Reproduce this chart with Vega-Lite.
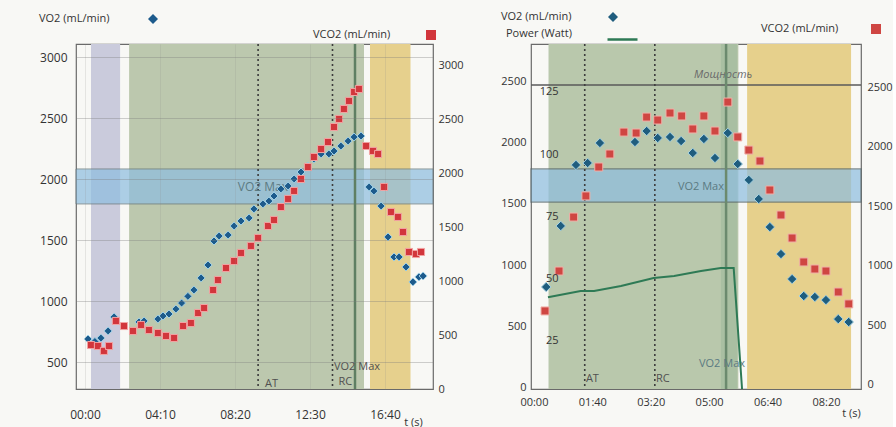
{
"$schema": "https://vega.github.io/schema/vega-lite/v6.json",
"background": "#f8f8f5",
"padding": {"left": 38, "top": 11, "right": 0, "bottom": 40},
"spacing": 98,
"bounds": "flush",
"datasets": {
 "lzones": [{"t": 20, "t2": 117, "zone": "warm-up"}, {"t": 147, "t2": 930, "zone": "load"}, {"t": 950, "t2": 1085, "zone": "recovery"}],
 "lband": [{"lo": 1798, "hi": 2085}],
 "lmarks": [{"t": 577, "kind": "AT"}, {"t": 825, "kind": "RC"}, {"t": 900, "kind": "VO2 Max"}],
 "llabels": [{"t": 600, "v": 321, "label": "AT"}, {"t": 845, "v": 337, "label": "RC"}, {"t": 830, "v": 460, "label": "VO2 Max"}],
 "lbandlabel": [{"t": 593, "v": 1937, "label": "VO2 Max"}],
 "lpts": [
  {"t":10,"v":690,"s":"VO2"},{"t":33,"v":670,"s":"VO2"},{"t":53,"v":698,"s":"VO2"},{"t":77,"v":756,"s":"VO2"},{"t":97,"v":871,"s":"VO2"},{"t":180,"v":830,"s":"VO2"},{"t":197,"v":838,"s":"VO2"},{"t":243,"v":854,"s":"VO2"},{"t":260,"v":879,"s":"VO2"},{"t":280,"v":895,"s":"VO2"},{"t":303,"v":936,"s":"VO2"},{"t":322,"v":985,"s":"VO2"},{"t":343,"v":1040,"s":"VO2"},{"t":363,"v":1092,"s":"VO2"},{"t":387,"v":1191,"s":"VO2"},{"t":410,"v":1297,"s":"VO2"},{"t":430,"v":1494,"s":"VO2"},{"t":447,"v":1535,"s":"VO2"},{"t":477,"v":1543,"s":"VO2"},{"t":497,"v":1617,"s":"VO2"},{"t":520,"v":1658,"s":"VO2"},{"t":547,"v":1683,"s":"VO2"},{"t":563,"v":1757,"s":"VO2"},{"t":593,"v":1798,"s":"VO2"},{"t":613,"v":1822,"s":"VO2"},{"t":630,"v":1863,"s":"VO2"},{"t":653,"v":1921,"s":"VO2"},{"t":677,"v":1945,"s":"VO2"},{"t":697,"v":2003,"s":"VO2"},{"t":720,"v":2060,"s":"VO2"},{"t":743,"v":2109,"s":"VO2"},{"t":763,"v":2167,"s":"VO2"},{"t":787,"v":2208,"s":"VO2"},{"t":813,"v":2208,"s":"VO2"},{"t":830,"v":2232,"s":"VO2"},{"t":853,"v":2273,"s":"VO2"},{"t":877,"v":2314,"s":"VO2"},{"t":897,"v":2347,"s":"VO2"},{"t":920,"v":2355,"s":"VO2"},{"t":947,"v":1937,"s":"VO2"},{"t":963,"v":1904,"s":"VO2"},{"t":987,"v":1781,"s":"VO2"},{"t":1010,"v":1527,"s":"VO2"},{"t":1030,"v":1363,"s":"VO2"},{"t":1047,"v":1363,"s":"VO2"},{"t":1070,"v":1281,"s":"VO2"},{"t":1093,"v":1158,"s":"VO2"},{"t":1113,"v":1199,"s":"VO2"},{"t":1127,"v":1207,"s":"VO2"},
  {"t":20,"v":408,"s":"VCO2"},{"t":43,"v":399,"s":"VCO2"},{"t":63,"v":353,"s":"VCO2"},{"t":80,"v":399,"s":"VCO2"},{"t":103,"v":631,"s":"VCO2"},{"t":130,"v":584,"s":"VCO2"},{"t":160,"v":538,"s":"VCO2"},{"t":187,"v":594,"s":"VCO2"},{"t":213,"v":547,"s":"VCO2"},{"t":243,"v":519,"s":"VCO2"},{"t":270,"v":492,"s":"VCO2"},{"t":297,"v":473,"s":"VCO2"},{"t":327,"v":584,"s":"VCO2"},{"t":353,"v":612,"s":"VCO2"},{"t":377,"v":705,"s":"VCO2"},{"t":397,"v":751,"s":"VCO2"},{"t":427,"v":918,"s":"VCO2"},{"t":443,"v":1011,"s":"VCO2"},{"t":470,"v":1122,"s":"VCO2"},{"t":497,"v":1187,"s":"VCO2"},{"t":520,"v":1262,"s":"VCO2"},{"t":553,"v":1327,"s":"VCO2"},{"t":577,"v":1401,"s":"VCO2"},{"t":610,"v":1512,"s":"VCO2"},{"t":630,"v":1568,"s":"VCO2"},{"t":653,"v":1688,"s":"VCO2"},{"t":677,"v":1763,"s":"VCO2"},{"t":697,"v":1837,"s":"VCO2"},{"t":720,"v":1948,"s":"VCO2"},{"t":743,"v":2059,"s":"VCO2"},{"t":763,"v":2152,"s":"VCO2"},{"t":787,"v":2226,"s":"VCO2"},{"t":810,"v":2291,"s":"VCO2"},{"t":830,"v":2430,"s":"VCO2"},{"t":847,"v":2505,"s":"VCO2"},{"t":863,"v":2597,"s":"VCO2"},{"t":880,"v":2672,"s":"VCO2"},{"t":897,"v":2755,"s":"VCO2"},{"t":913,"v":2783,"s":"VCO2"},{"t":937,"v":2254,"s":"VCO2"},{"t":960,"v":2208,"s":"VCO2"},{"t":977,"v":2180,"s":"VCO2"},{"t":997,"v":1874,"s":"VCO2"},{"t":1020,"v":1642,"s":"VCO2"},{"t":1043,"v":1596,"s":"VCO2"},{"t":1060,"v":1456,"s":"VCO2"},{"t":1080,"v":1271,"s":"VCO2"},{"t":1103,"v":1252,"s":"VCO2"},{"t":1120,"v":1271,"s":"VCO2"}
 ],
 "rzones": [{"t": 25, "t2": 350, "zone": "load"}, {"t": 320, "t2": 348, "zone": "peak"}, {"t": 365, "t2": 543, "zone": "recovery"}],
 "rband": [{"lo": 1516, "hi": 1787}],
 "rmarks": [{"t": 87, "kind": "AT"}, {"t": 207, "kind": "RC"}, {"t": 329, "kind": "VO2 Max"}],
 "rlabels": [{"t": 89, "v": 66, "label": "AT"}, {"t": 209, "v": 66, "label": "RC"}],
 "rclabels": [{"t": 322, "v": 189, "label": "VO2 Max"}, {"t": 286, "v": 1639, "label": "VO2 Max"}],
 "rpowerline": [{"v": 2475, "label": "Мощность", "t": 324, "lv": 2560}],
 "rpts": [
  {"t":21,"v":820,"s":"VO2"},{"t":46,"v":1320,"s":"VO2"},{"t":72,"v":1820,"s":"VO2"},{"t":92,"v":1836,"s":"VO2"},{"t":113,"v":2000,"s":"VO2"},{"t":173,"v":2008,"s":"VO2"},{"t":193,"v":2098,"s":"VO2"},{"t":212,"v":2041,"s":"VO2"},{"t":233,"v":2049,"s":"VO2"},{"t":252,"v":2016,"s":"VO2"},{"t":272,"v":1918,"s":"VO2"},{"t":291,"v":2033,"s":"VO2"},{"t":310,"v":1877,"s":"VO2"},{"t":332,"v":2082,"s":"VO2"},{"t":349,"v":1828,"s":"VO2"},{"t":368,"v":1697,"s":"VO2"},{"t":385,"v":1541,"s":"VO2"},{"t":404,"v":1311,"s":"VO2"},{"t":423,"v":1090,"s":"VO2"},{"t":442,"v":885,"s":"VO2"},{"t":462,"v":746,"s":"VO2"},{"t":481,"v":738,"s":"VO2"},{"t":500,"v":713,"s":"VO2"},{"t":521,"v":557,"s":"VO2"},{"t":539,"v":533,"s":"VO2"},
  {"t":19,"v":621,"s":"VCO2"},{"t":43,"v":956,"s":"VCO2"},{"t":68,"v":1409,"s":"VCO2"},{"t":89,"v":1586,"s":"VCO2"},{"t":111,"v":1829,"s":"VCO2"},{"t":130,"v":1938,"s":"VCO2"},{"t":154,"v":2122,"s":"VCO2"},{"t":175,"v":2114,"s":"VCO2"},{"t":193,"v":2248,"s":"VCO2"},{"t":212,"v":2223,"s":"VCO2"},{"t":233,"v":2282,"s":"VCO2"},{"t":253,"v":2257,"s":"VCO2"},{"t":272,"v":2148,"s":"VCO2"},{"t":291,"v":2257,"s":"VCO2"},{"t":310,"v":2131,"s":"VCO2"},{"t":332,"v":2374,"s":"VCO2"},{"t":349,"v":2081,"s":"VCO2"},{"t":368,"v":1971,"s":"VCO2"},{"t":387,"v":1879,"s":"VCO2"},{"t":404,"v":1636,"s":"VCO2"},{"t":423,"v":1426,"s":"VCO2"},{"t":442,"v":1233,"s":"VCO2"},{"t":462,"v":1032,"s":"VCO2"},{"t":481,"v":973,"s":"VCO2"},{"t":500,"v":956,"s":"VCO2"},{"t":521,"v":780,"s":"VCO2"},{"t":539,"v":680,"s":"VCO2"}
 ],
 "rpow": [{"t":24,"p":42.5,"s":"Power"},{"t":80,"p":45,"s":"Power"},{"t":103,"p":45,"s":"Power"},{"t":149,"p":47,"s":"Power"},{"t":205,"p":50.2,"s":"Power"},{"t":240,"p":51,"s":"Power"},{"t":286,"p":53,"s":"Power"},{"t":320,"p":54.2,"s":"Power"},{"t":342,"p":54.2,"s":"Power"},{"t":358,"p":0,"s":"Power"}]
},
"hconcat": [
 {
  "width": 357, "height": 345,
  "resolve": {"scale": {"y": "independent", "color": "independent"}},
  "layer": [
   {"data": {"name": "lzones"}, "mark": {"type": "rect"},
    "encoding": {
     "x": {"field": "t", "type": "quantitative", "scale": {"domain": [-30, 1160], "nice": false, "zero": false},
           "axis": {"values": [0, 250, 500, 750, 1000], "labelExpr": "(floor(datum.value/60)<10?'0':'')+floor(datum.value/60)+':'+(datum.value%60<10?'0':'')+(datum.value%60)", "title": "t (s)", "titleX": 337, "titleY": 33, "titleAlign": "center", "titleBaseline": "middle", "titleFontSize": 11, "titleFontWeight": "normal", "labelPadding": 20, "labelFontSize": 12, "ticks": false, "domain": false, "grid": true, "gridColor": "#8a8a8a", "gridOpacity": 0.18, "zindex": 1}},
     "x2": {"field": "t2"},
     "color": {"field": "zone", "type": "nominal", "scale": {"domain": ["warm-up", "load", "recovery"], "range": ["#cacbdc", "#bcc8ae", "#e6d08d"]}, "legend": null}
    }},
   {"data": {"name": "lband"}, "mark": {"type": "rect", "fill": "#8fbedf", "opacity": 0.72, "stroke": "#66777c", "strokeWidth": 1},
    "encoding": {
     "y": {"field": "lo", "type": "quantitative", "scale": {"domain": [280, 3110], "nice": false, "zero": false},
           "axis": {"orient": "left", "values": [500, 1000, 1500, 2000, 2500, 3000], "format": "d", "title": null, "ticks": false, "domain": false, "labelPadding": 9, "labelFontSize": 12, "grid": true, "gridColor": "#7a7a7a", "gridOpacity": 0.35, "zindex": 1}},
     "y2": {"field": "hi"}
    }},
   {"data": {"name": "lmarks"}, "transform": [{"filter": "datum.kind != 'VO2 Max'"}],
    "mark": {"type": "rule", "strokeDash": [2, 3], "strokeWidth": 1.6, "color": "#3c3c3c"},
    "encoding": {"x": {"field": "t", "type": "quantitative", "scale": {"domain": [-30, 1160], "nice": false, "zero": false}}}},
   {"data": {"name": "lmarks"}, "transform": [{"filter": "datum.kind == 'VO2 Max'"}],
    "mark": {"type": "rule", "strokeWidth": 2.5, "color": "#5f7f63"},
    "encoding": {"x": {"field": "t", "type": "quantitative", "scale": {"domain": [-30, 1160], "nice": false, "zero": false}}}},
   {"data": {"name": "llabels"}, "mark": {"type": "text", "align": "left", "baseline": "middle", "fontSize": 11, "color": "#505050"},
    "encoding": {
     "x": {"field": "t", "type": "quantitative", "scale": {"domain": [-30, 1160], "nice": false, "zero": false}},
     "y": {"field": "v", "type": "quantitative", "scale": {"domain": [280, 3110], "nice": false, "zero": false}, "axis": null},
     "text": {"field": "label"}}},
   {"data": {"name": "lbandlabel"}, "mark": {"type": "text", "align": "center", "baseline": "middle", "fontSize": 12, "color": "#5b7a82"},
    "encoding": {
     "x": {"field": "t", "type": "quantitative", "scale": {"domain": [-30, 1160], "nice": false, "zero": false}},
     "y": {"field": "v", "type": "quantitative", "scale": {"domain": [280, 3110], "nice": false, "zero": false}, "axis": null},
     "text": {"field": "label"}}},
   {"data": {"name": "lpts"}, "transform": [{"filter": "datum.s == 'VO2'"}],
    "mark": {"type": "point", "shape": "diamond", "filled": true, "size": 64, "opacity": 1, "stroke": "#9fd0e6", "strokeWidth": 1},
    "encoding": {
     "x": {"field": "t", "type": "quantitative", "scale": {"domain": [-30, 1160], "nice": false, "zero": false}},
     "y": {"field": "v", "type": "quantitative", "scale": {"domain": [280, 3110], "nice": false, "zero": false}, "axis": null},
     "color": {"field": "s", "type": "nominal", "scale": {"domain": ["VO2"], "range": ["#1d5b8c"]},
               "legend": {"title": "VO2 (mL/min)", "titleOrient": "left", "titleAngle": 0, "titlePadding": 38, "titleBaseline": "middle", "labelExpr": "''", "orient": "none", "legendX": -37, "legendY": -30, "symbolType": "diamond", "symbolSize": 100, "symbolStrokeWidth": 0}}
    }},
   {"data": {"name": "lpts"}, "transform": [{"filter": "datum.s == 'VCO2'"}],
    "mark": {"type": "point", "shape": "square", "filled": true, "size": 50, "opacity": 1, "stroke": "#f2a3a3", "strokeWidth": 1},
    "encoding": {
     "x": {"field": "t", "type": "quantitative", "scale": {"domain": [-30, 1160], "nice": false, "zero": false}},
     "y": {"field": "v", "type": "quantitative", "scale": {"domain": [0, 3200], "nice": false, "zero": false},
           "axis": {"orient": "right", "values": [0, 500, 1000, 1500, 2000, 2500, 3000], "format": "d", "title": null, "ticks": false, "domain": false, "labelPadding": 5, "labelFontSize": 11, "grid": false}},
     "color": {"field": "s", "type": "nominal", "scale": {"domain": ["VCO2"], "range": ["#d2363c"]},
               "legend": {"title": "VCO2 (mL/min)", "titleOrient": "left", "titleAngle": 0, "titlePadding": 35, "titleBaseline": "middle", "labelExpr": "''", "orient": "none", "legendX": 237, "legendY": -14, "symbolType": "square", "symbolSize": 100, "symbolStrokeWidth": 0}}
    }}
  ]
 },
 {
  "width": 330, "height": 345,
  "resolve": {"scale": {"y": "independent", "color": "independent"}},
  "layer": [
   {"data": {"name": "rzones"}, "mark": {"type": "rect"},
    "encoding": {
     "x": {"field": "t", "type": "quantitative", "scale": {"domain": [-5, 560], "nice": false, "zero": false},
           "axis": {"values": [0, 100, 200, 300, 400, 500], "labelExpr": "(floor(datum.value/60)<10?'0':'')+floor(datum.value/60)+':'+(datum.value%60<10?'0':'')+(datum.value%60)", "title": "t (s)", "titleX": 320, "titleY": 24, "titleAlign": "center", "titleBaseline": "middle", "titleFontSize": 11, "titleFontWeight": "normal", "labelPadding": 7, "labelFontSize": 11, "ticks": false, "domain": false, "grid": false, "zindex": 1}},
     "x2": {"field": "t2"},
     "color": {"field": "zone", "type": "nominal", "scale": {"domain": ["load", "peak", "recovery"], "range": ["#b9c8ac", "#a9bfa2", "#e6d08c"]}, "legend": null}
    }},
   {"data": {"name": "rband"}, "mark": {"type": "rect", "fill": "#8fbedf", "opacity": 0.72, "stroke": "#55656a", "strokeWidth": 1.2},
    "encoding": {
     "y": {"field": "lo", "type": "quantitative", "scale": {"domain": [-16, 2811], "nice": false, "zero": false},
           "axis": {"orient": "left", "values": [0, 500, 1000, 1500, 2000, 2500], "format": "d", "title": null, "ticks": false, "domain": false, "labelPadding": 5, "labelFontSize": 11, "grid": false, "zindex": 1}},
     "y2": {"field": "hi"}
    }},
   {"data": {"name": "rpowerline"}, "mark": {"type": "rule", "strokeWidth": 1.5, "color": "#5a5a5a"},
    "encoding": {"y": {"field": "v", "type": "quantitative", "scale": {"domain": [-16, 2811], "nice": false, "zero": false}, "axis": null}}},
   {"data": {"name": "rpowerline"}, "mark": {"type": "text", "align": "center", "baseline": "middle", "fontSize": 11, "fontStyle": "italic", "color": "#6a6a6a"},
    "encoding": {
     "x": {"field": "t", "type": "quantitative", "scale": {"domain": [-5, 560], "nice": false, "zero": false}},
     "y": {"field": "lv", "type": "quantitative", "scale": {"domain": [-16, 2811], "nice": false, "zero": false}, "axis": null},
     "text": {"field": "label"}}},
   {"data": {"name": "rmarks"}, "transform": [{"filter": "datum.kind != 'VO2 Max'"}],
    "mark": {"type": "rule", "strokeDash": [2, 3], "strokeWidth": 1.6, "color": "#3c3c3c"},
    "encoding": {"x": {"field": "t", "type": "quantitative", "scale": {"domain": [-5, 560], "nice": false, "zero": false}}}},
   {"data": {"name": "rmarks"}, "transform": [{"filter": "datum.kind == 'VO2 Max'"}],
    "mark": {"type": "rule", "strokeWidth": 2.5, "color": "#6b8a6e"},
    "encoding": {"x": {"field": "t", "type": "quantitative", "scale": {"domain": [-5, 560], "nice": false, "zero": false}}}},
   {"data": {"name": "rlabels"}, "mark": {"type": "text", "align": "left", "baseline": "middle", "fontSize": 11, "color": "#505050"},
    "encoding": {
     "x": {"field": "t", "type": "quantitative", "scale": {"domain": [-5, 560], "nice": false, "zero": false}},
     "y": {"field": "v", "type": "quantitative", "scale": {"domain": [-16, 2811], "nice": false, "zero": false}, "axis": null},
     "text": {"field": "label"}}},
   {"data": {"name": "rclabels"}, "mark": {"type": "text", "align": "center", "baseline": "middle", "fontSize": 11, "color": "#5b7a82"},
    "encoding": {
     "x": {"field": "t", "type": "quantitative", "scale": {"domain": [-5, 560], "nice": false, "zero": false}},
     "y": {"field": "v", "type": "quantitative", "scale": {"domain": [-16, 2811], "nice": false, "zero": false}, "axis": null},
     "text": {"field": "label"}}},
   {"data": {"name": "rpow"},
    "mark": {"type": "line", "strokeWidth": 2, "clip": true},
    "encoding": {
     "x": {"field": "t", "type": "quantitative", "scale": {"domain": [-5, 560], "nice": false, "zero": false}},
     "y": {"field": "p", "type": "quantitative", "scale": {"domain": [5.6, 144.2], "nice": false, "zero": false},
           "axis": {"orient": "left", "offset": -30, "values": [25, 50, 75, 100, 125], "title": null, "ticks": false, "domain": false, "labelPadding": 3, "labelFontSize": 11, "grid": false, "zindex": 2}},
     "color": {"field": "s", "type": "nominal", "scale": {"domain": ["Power"], "range": ["#2e7a55"]},
               "legend": {"title": "Power (Watt)", "titleOrient": "left", "titleAngle": 0, "titlePadding": 34, "titleBaseline": "middle", "labelExpr": "''", "orient": "none", "legendX": -25, "legendY": -21, "symbolType": "stroke", "symbolSize": 900, "symbolStrokeWidth": 2.5}}
    }},
   {"data": {"name": "rpts"}, "transform": [{"filter": "datum.s == 'VO2'"}],
    "mark": {"type": "point", "shape": "diamond", "filled": true, "size": 90, "opacity": 1, "stroke": "#a6d2e2", "strokeWidth": 1},
    "encoding": {
     "x": {"field": "t", "type": "quantitative", "scale": {"domain": [-5, 560], "nice": false, "zero": false}},
     "y": {"field": "v", "type": "quantitative", "scale": {"domain": [-16, 2811], "nice": false, "zero": false}, "axis": null},
     "color": {"field": "s", "type": "nominal", "scale": {"domain": ["VO2"], "range": ["#1f5d7e"]},
               "legend": {"title": "VO2 (mL/min)", "titleOrient": "left", "titleAngle": 0, "titlePadding": 36, "titleBaseline": "middle", "labelExpr": "''", "orient": "none", "legendX": -30, "legendY": -32, "symbolType": "diamond", "symbolSize": 100, "symbolStrokeWidth": 0}}
    }},
   {"data": {"name": "rpts"}, "transform": [{"filter": "datum.s == 'VCO2'"}],
    "mark": {"type": "point", "shape": "square", "filled": true, "size": 64, "opacity": 1, "stroke": "#f0b0a8", "strokeWidth": 1},
    "encoding": {
     "x": {"field": "t", "type": "quantitative", "scale": {"domain": [-5, 560], "nice": false, "zero": false}},
     "y": {"field": "v", "type": "quantitative", "scale": {"domain": [-34, 2861], "nice": false, "zero": false},
           "axis": {"orient": "right", "values": [0, 500, 1000, 1500, 2000, 2500], "format": "d", "title": null, "ticks": false, "domain": false, "labelPadding": 6, "labelFontSize": 11, "grid": false}},
     "color": {"field": "s", "type": "nominal", "scale": {"domain": ["VCO2"], "range": ["#cf4642"]},
               "legend": {"title": "VCO2 (mL/min)", "titleOrient": "left", "titleAngle": 0, "titlePadding": 32, "titleBaseline": "middle", "labelExpr": "''", "orient": "none", "legendX": 230, "legendY": -20, "symbolType": "square", "symbolSize": 100, "symbolStrokeWidth": 0}}
    }}
  ]
 }
],
"config": {
 "font": "Open Sans",
 "view": {"stroke": "#6a6a6a", "strokeWidth": 1.2},
 "axis": {"labelFont": "Open Sans", "labelColor": "#333333", "titleFont": "Open Sans", "titleFontWeight": "normal", "titleColor": "#333333"},
 "legend": {"titleFont": "Open Sans", "titleFontWeight": "normal", "titleFontSize": 11, "titleColor": "#333333", "padding": 0, "labelFontSize": 1},
 "text": {"font": "Open Sans"}
}
}
